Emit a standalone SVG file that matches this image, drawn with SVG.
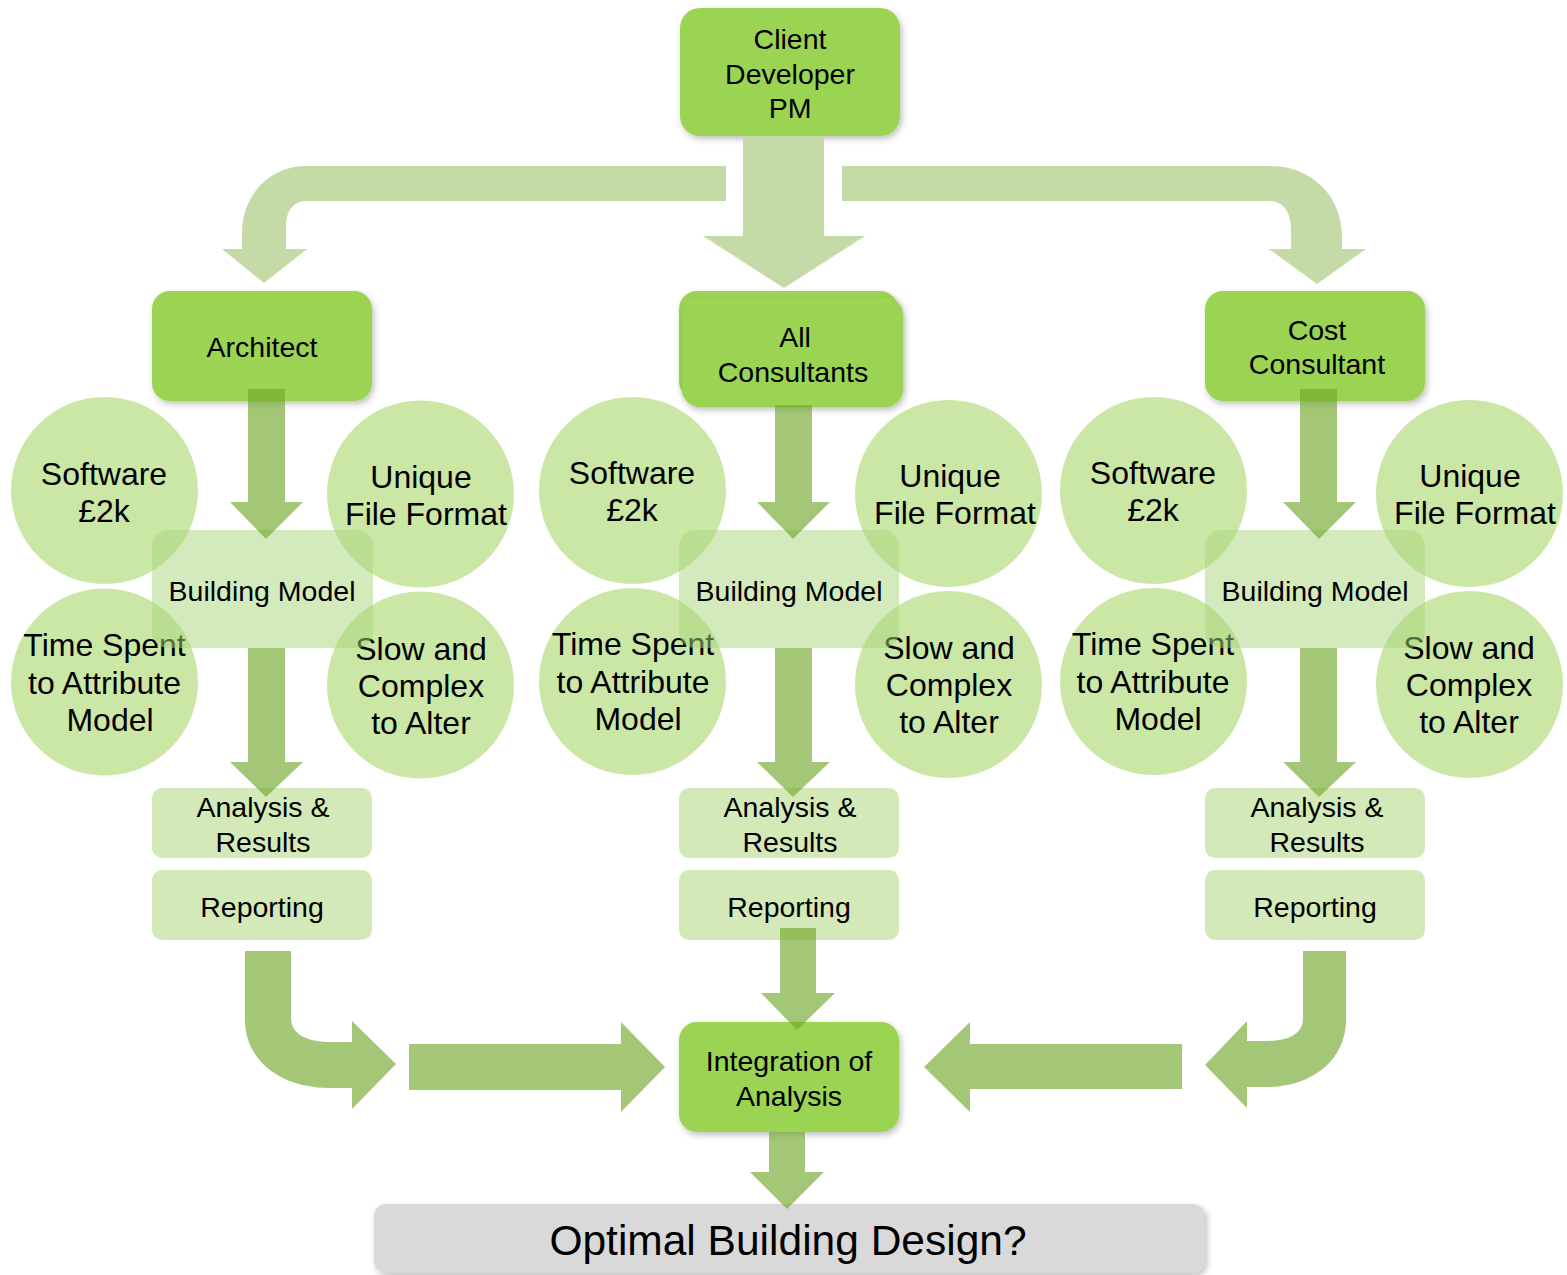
<svg xmlns="http://www.w3.org/2000/svg" width="1567" height="1275" viewBox="0 0 1567 1275">
<defs>
<filter id="sh" x="-10%" y="-10%" width="125%" height="130%">
<feDropShadow dx="2" dy="3" stdDeviation="3" flood-color="#000" flood-opacity="0.25"/>
</filter>
<style>
text{font-family:"Liberation Sans",Arial,sans-serif;fill:#000;text-anchor:middle}
.t{font-size:28.5px}
.c{font-size:32px}
.big{font-size:42.5px}
.main{fill:#9bd353;filter:url(#sh)}
.circ{fill:#cbe7a6}
.bm{fill:#a8d67a;fill-opacity:0.5}
.sub{fill:#d3eab8}
.opt{fill:#d9d9d9;filter:url(#sh)}
.arr{fill:#6fa729;fill-opacity:0.64}
.top{fill:#c4dba7}
</style>
</defs>
<rect width="1567" height="1275" fill="#fff"/>

<g id="client"><rect class="main" x="680" y="8" width="220" height="128" rx="20"/>
<text class="t" x="790" y="49">Client</text><text class="t" x="790" y="84">Developer</text><text class="t" x="790" y="118">PM</text></g>

<g id="architect"><rect class="main" x="152" y="291" width="220" height="110" rx="18"/>
<text class="t" x="262" y="357">Architect</text></g>

<g id="all-consultants"><rect class="main" x="679" y="291" width="219" height="108" rx="18"/><rect class="main" x="682" y="297" width="221" height="110" rx="18"/>
<text class="t" x="795" y="347">All</text><text class="t" x="793" y="382">Consultants</text></g>

<g id="cost-consultant"><rect class="main" x="1205" y="291" width="220" height="110" rx="18"/>
<text class="t" x="1317" y="340">Cost</text><text class="t" x="1317" y="374">Consultant</text></g>

<!-- left column -->
<g id="l-software"><circle class="circ" cx="104.5" cy="490.5" r="93.5"/><text class="c" x="104" y="485">Software</text><text class="c" x="104" y="522">£2k</text></g>
<g id="l-unique"><circle class="circ" cx="420.5" cy="494" r="93.5"/><text class="c" x="421" y="488">Unique</text><text class="c" x="426" y="525">File Format</text></g>
<g id="l-time"><circle class="circ" cx="104.5" cy="682" r="93.5"/><text class="c" x="104.5" y="656">Time Spent</text><text class="c" x="104.5" y="694">to Attribute</text><text class="c" x="110" y="731">Model</text></g>
<g id="l-slow"><circle class="circ" cx="420.5" cy="685" r="93.5"/><text class="c" x="421" y="660">Slow and</text><text class="c" x="421" y="697">Complex</text><text class="c" x="421" y="734">to Alter</text></g>
<g id="l-model"><rect class="bm" x="152" y="530" width="221" height="118" rx="16"/><text class="t" x="262" y="601">Building Model</text></g>
<g id="l-analysis"><rect class="sub" x="152" y="788" width="220" height="70" rx="10"/><text class="t" x="263" y="817">Analysis &amp;</text><text class="t" x="263" y="852">Results</text></g>
<g id="l-reporting"><rect class="sub" x="152" y="870" width="220" height="70" rx="10"/><text class="t" x="262" y="917">Reporting</text></g>

<!-- center column -->
<g id="c-software"><circle class="circ" cx="632.5" cy="490.5" r="93.5"/><text class="c" x="632" y="484">Software</text><text class="c" x="632" y="521">£2k</text></g>
<g id="c-unique"><circle class="circ" cx="948.5" cy="493.5" r="93.5"/><text class="c" x="950" y="487">Unique</text><text class="c" x="955" y="524">File Format</text></g>
<g id="c-time"><circle class="circ" cx="632.5" cy="681.5" r="93.5"/><text class="c" x="633" y="655">Time Spent</text><text class="c" x="633" y="693">to Attribute</text><text class="c" x="638" y="730">Model</text></g>
<g id="c-slow"><circle class="circ" cx="948.5" cy="684.5" r="93.5"/><text class="c" x="949" y="659">Slow and</text><text class="c" x="949" y="696">Complex</text><text class="c" x="949" y="733">to Alter</text></g>
<g id="c-model"><rect class="bm" x="679" y="530" width="220" height="118" rx="16"/><text class="t" x="789" y="601">Building Model</text></g>
<g id="c-analysis"><rect class="sub" x="679" y="788" width="220" height="70" rx="10"/><text class="t" x="790" y="817">Analysis &amp;</text><text class="t" x="790" y="852">Results</text></g>
<g id="c-reporting"><rect class="sub" x="679" y="870" width="220" height="70" rx="10"/><text class="t" x="789" y="917">Reporting</text></g>

<!-- right column -->
<g id="r-software"><circle class="circ" cx="1153.5" cy="490.5" r="93.5"/><text class="c" x="1153" y="484">Software</text><text class="c" x="1153" y="521">£2k</text></g>
<g id="r-unique"><circle class="circ" cx="1469.5" cy="493.5" r="93.5"/><text class="c" x="1470" y="487">Unique</text><text class="c" x="1475" y="524">File Format</text></g>
<g id="r-time"><circle class="circ" cx="1153.5" cy="681.5" r="93.5"/><text class="c" x="1153" y="655">Time Spent</text><text class="c" x="1153" y="693">to Attribute</text><text class="c" x="1158" y="730">Model</text></g>
<g id="r-slow"><circle class="circ" cx="1469.5" cy="684.5" r="93.5"/><text class="c" x="1469" y="659">Slow and</text><text class="c" x="1469" y="696">Complex</text><text class="c" x="1469" y="733">to Alter</text></g>
<g id="r-model"><rect class="bm" x="1205" y="530" width="220" height="118" rx="16"/><text class="t" x="1315" y="601">Building Model</text></g>
<g id="r-analysis"><rect class="sub" x="1205" y="788" width="220" height="70" rx="10"/><text class="t" x="1317" y="817">Analysis &amp;</text><text class="t" x="1317" y="852">Results</text></g>
<g id="r-reporting"><rect class="sub" x="1205" y="870" width="220" height="70" rx="10"/><text class="t" x="1315" y="917">Reporting</text></g>

<g id="integration"><rect class="main" x="679" y="1022" width="220" height="110" rx="18"/><text class="t" x="789" y="1071">Integration of</text><text class="t" x="789" y="1106">Analysis</text></g>

<g id="optimal"><rect class="opt" x="374" y="1204" width="831" height="69" rx="12"/><text class="big" x="788" y="1255">Optimal Building Design?</text></g>

<g id="connectors">
<path class="top" d="M726,166 L306,166 C270,166 242,195 242,233 L242,249 L222,249 L264,283 L307,249 L286,249 L286,226 C286,212 293,201 306,201 L726,201 Z"/>
<path class="top" d="M743,136 L824,136 L824,236 L865,236 L784,288 L703,236 L743,236 Z"/>
<path class="top" d="M842,166 L1270,166 C1312,166 1342,196 1342,237 L1342,249 L1366,249 L1317,284 L1269,249 L1291,249 L1291,230 C1291,212 1283,201 1270,201 L842,201 Z"/>

<path class="arr" d="M248,389 L285,389 L285,502 L303,502 L266,539 L230,502 L248,502 Z"/>
<path class="arr" d="M248,648 L285,648 L285,762 L303,762 L266,797 L230,762 L248,762 Z"/>
<path class="arr" d="M775,405 L812,405 L812,502 L830,502 L793,539 L757,502 L775,502 Z"/>
<path class="arr" d="M775,648 L812,648 L812,762 L830,762 L793,797 L757,762 L775,762 Z"/>
<path class="arr" d="M1300,389 L1337,389 L1337,502 L1356,502 L1319,539 L1283,502 L1300,502 Z"/>
<path class="arr" d="M1300,648 L1337,648 L1337,762 L1356,762 L1319,797 L1283,762 L1300,762 Z"/>

<path class="arr" d="M245,951 L291,951 L291,1018 C291,1033 305,1042 330,1042 L352,1042 L352,1021 L396,1064 L352,1109 L352,1088 L330,1088 C280,1088 245,1060 245,1020 Z"/>
<path class="arr" d="M409,1044 L621,1044 L621,1022 L665,1067 L621,1112 L621,1090 L409,1090 Z"/>
<path class="arr" d="M1182,1044 L970,1044 L970,1022 L924,1067 L970,1112 L970,1089 L1182,1089 Z"/>
<path class="arr" d="M1303,951 L1346,951 L1346,1020 C1346,1060 1312,1087 1267,1087 L1247,1087 L1247,1108 L1205,1065 L1247,1021 L1247,1041 L1267,1041 C1290,1041 1303,1033 1303,1018 Z"/>
<path class="arr" d="M780,928 L816,928 L816,993 L835,993 L797,1030 L761,993 L780,993 Z"/>
<path class="arr" d="M769,1132 L805,1132 L805,1172 L824,1172 L787,1209 L750,1172 L769,1172 Z"/>
</g>
</svg>
